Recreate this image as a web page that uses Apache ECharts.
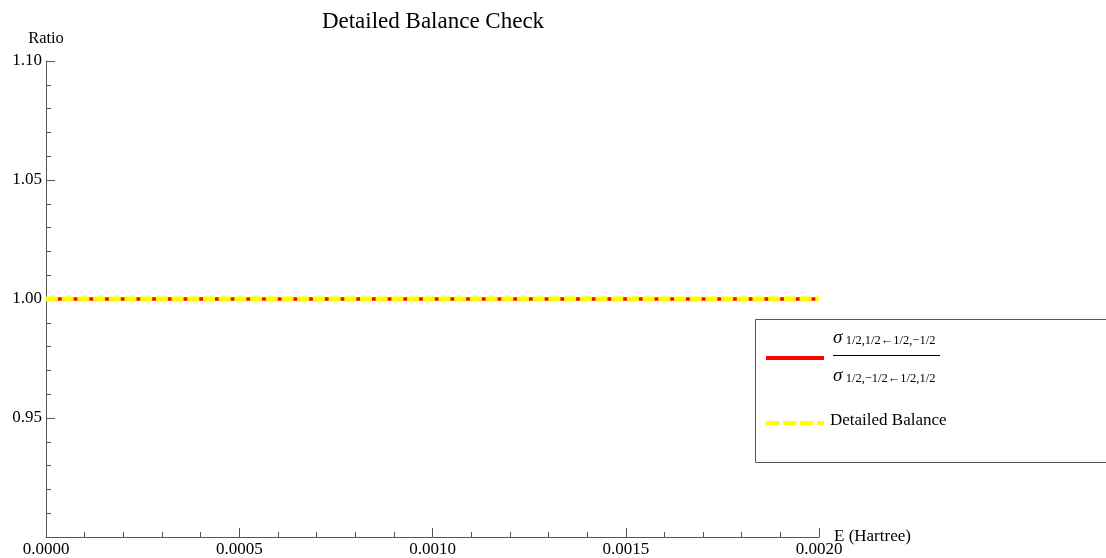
<!DOCTYPE html>
<html>
<head>
<meta charset="utf-8">
<script src="https://cdn.jsdelivr.net/npm/echarts@6/dist/echarts.min.js"></script>
<style>html,body{margin:0;padding:0;background:#fff}#c{width:1106px;height:558px}</style>
</head>
<body>
<div id="c"></div>
<script>
var energies = [0, 0.0005, 0.0010, 0.0015, 0.0020];
var ratioValues = [1.0, 1.0, 1.0, 1.0, 1.0];
var balanceValues = [1.0, 1.0, 1.0, 1.0, 1.0];
var titleText = 'Detailed Balance Check';
var xName = 'E (Hartree)';
var yName = 'Ratio';
var legendNum = '1/2,1/2\u21901/2,\u22121/2';
var legendDen = '1/2,\u22121/2\u21901/2,1/2';
var legendBalance = 'Detailed Balance';

var FONT = '"Liberation Serif", "DejaVu Serif", serif';
var axisColor = '#555';

function pairs(xs, ys) { return xs.map(function (x, i) { return [x, ys[i]]; }); }

var chart = echarts.init(document.getElementById('c'), null, {renderer: 'canvas'});
chart.setOption({
  animation: false,
  backgroundColor: '#fff',
  title: {
    text: titleText, left: 428, top: 5, textAlign: 'center',
    textStyle: {fontFamily: FONT, fontSize: 23, fontWeight: 'normal', color: '#000'}
  },
  grid: {left: 46, right: 287, top: 61, bottom: 21, containLabel: false},
  xAxis: {
    type: 'value', min: 0, max: 0.002, interval: 0.0005,
    name: xName, nameLocation: 'end', nameGap: 15, nameMoveOverlap: false,
    nameTextStyle: {fontFamily: FONT, fontSize: 17, color: '#000', verticalAlign: 'middle', padding: [0,0,2,0]},
    axisLine: {show: true, lineStyle: {color: axisColor, width: 1}},
    axisTick: {show: true, inside: true, length: 9, lineStyle: {color: axisColor}},
    minorTick: {show: true, splitNumber: 5, length: 5, lineStyle: {color: axisColor}},
    splitLine: {show: false},
    axisLabel: {fontFamily: FONT, fontSize: 17, color: '#000', margin: 4,
      formatter: function (v) { return v.toFixed(4); }}
  },
  yAxis: {
    type: 'value', min: 0.9, max: 1.1, interval: 0.05,
    name: yName, nameLocation: 'end', nameGap: 14, nameMoveOverlap: false,
    nameTextStyle: {fontFamily: FONT, fontSize: 16.5, color: '#000', align: 'center'},
    axisLine: {show: true, lineStyle: {color: axisColor, width: 1}},
    axisTick: {show: true, inside: true, length: 9, lineStyle: {color: axisColor}},
    minorTick: {show: true, splitNumber: 5, length: 5, lineStyle: {color: axisColor}},
    splitLine: {show: false},
    axisLabel: {fontFamily: FONT, fontSize: 17, color: '#000', margin: 4, showMinLabel: false,
      formatter: function (v) { return v.toFixed(2); }}
  },
  series: [
    {
      type: 'line', name: 'ratio', data: pairs(energies, ratioValues),
      showSymbol: false, lineStyle: {color: '#ff0000', width: 3.5}, z: 2
    },
    {
      type: 'line', name: 'balance', data: pairs(energies, balanceValues),
      showSymbol: false, lineStyle: {color: '#ffff00', width: 5, type: [12, 3.7], cap: 'butt'}, z: 3
    }
  ],
  graphic: [
    {type: 'rect', shape: {x: 755.5, y: 319.5, width: 360, height: 143},
     style: {fill: '#fff', stroke: '#555', lineWidth: 1}, z: 10},
    {type: 'line', shape: {x1: 766, y1: 358, x2: 824, y2: 358},
     style: {stroke: '#ff0000', lineWidth: 4}, z: 11},
    {type: 'text', x: 833, y: 338, z: 11,
     style: {text: '{s|\u03c3} {sub|' + legendNum + '}', verticalAlign: 'middle',
       rich: {s: {fontFamily: FONT, fontSize: 19, fontStyle: 'italic', fill: '#000'},
              sub: {fontFamily: FONT, fontSize: 12.5, fill: '#000', padding: [6,0,0,0]}}}},
    {type: 'line', shape: {x1: 833, y1: 355.5, x2: 940, y2: 355.5},
     style: {stroke: '#000', lineWidth: 1}, z: 11},
    {type: 'text', x: 833, y: 376, z: 11,
     style: {text: '{s|\u03c3} {sub|' + legendDen + '}', verticalAlign: 'middle',
       rich: {s: {fontFamily: FONT, fontSize: 19, fontStyle: 'italic', fill: '#000'},
              sub: {fontFamily: FONT, fontSize: 12.5, fill: '#000', padding: [6,0,0,0]}}}},
    {type: 'line', shape: {x1: 766, y1: 423, x2: 824, y2: 423},
     style: {stroke: '#ffff00', lineWidth: 4, lineDash: [13.5, 3.5]}, z: 11},
    {type: 'text', x: 830, y: 421, z: 11,
     style: {text: legendBalance, verticalAlign: 'middle', fontFamily: FONT, fontSize: 17, fill: '#000'}}
  ]
});
</script>
</body>
</html>
